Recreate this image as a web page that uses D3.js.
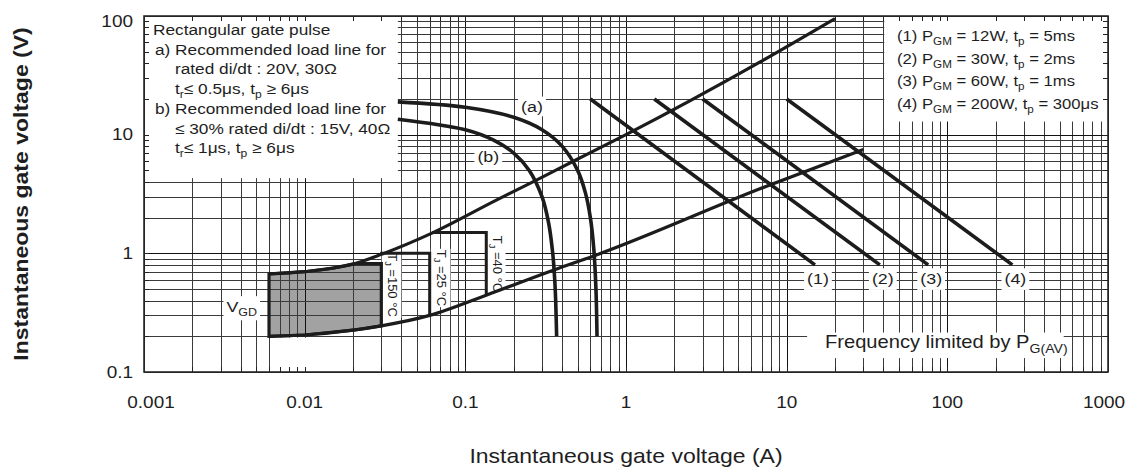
<!DOCTYPE html>
<html><head><meta charset="utf-8">
<script src="https://cdn.jsdelivr.net/npm/d3@7"></script>
<style>
body{margin:0;background:#fff}
svg{display:block}
text{font-family:"Liberation Sans",Arial,Helvetica,sans-serif;fill:#1e1e1e;white-space:pre}
</style>
</head><body>
<svg id="c" width="1140" height="472"></svg>
<script>
// ---------------- data ----------------
const xTickValues = [0.001, 0.01, 0.1, 1, 10, 100, 1000];
const xTickLabels = ["0.001", "0.01", "0.1", "1", "10", "100", "1000"];
const yTickValues = [0.1, 1, 10, 100];
const yTickLabels = ["0.1", "1", "10", "100"];

// upper / lower gate characteristic boundary (I in A, V in V)
const upperI = [0.006, 0.01, 0.0206, 0.03, 0.062, 0.157, 0.273, 0.473, 1, 6.89, 20];
const upperV = [0.67, 0.70, 0.82, 0.98, 1.48, 2.82, 4.1, 6.0, 10, 41.2, 95];
const lowerI = [0.006, 0.01, 0.02, 0.03, 0.06, 0.136, 0.356, 0.63, 6.94, 30];
const lowerV = [0.2, 0.205, 0.225, 0.245, 0.30, 0.446, 0.724, 0.95, 3.53, 7.5];

// recommended load lines (a) 20V,30Ω and (b) 15V,40Ω
const loadAI = [0.038, 0.1, 0.2, 0.3, 0.4, 0.5, 0.56, 0.6, 0.63, 0.65, 0.66];
const loadAV = [18.9, 17.0, 14.0, 11.0, 8.0, 5.0, 3.2, 2.0, 1.1, 0.5, 0.2];
const loadBI = [0.038, 0.1, 0.15, 0.2, 0.25, 0.3, 0.33, 0.35, 0.36, 0.365, 0.37];
const loadBV = [13.5, 11.0, 9.0, 7.0, 5.0, 3.0, 1.8, 1.0, 0.6, 0.4, 0.2];
const loadLabels = ["(a)", "(b)"];
const loadLabelI = [0.26, 0.139];
const loadLabelV = [17.4, 6.5];

// peak gate power lines (1)-(4)
const powerLabels = ["(1)", "(2)", "(3)", "(4)"];
const powerStartI = [0.6, 1.5, 3.0, 10];
const powerStartV = [20, 20, 20, 20];
const powerEndI = [15, 38, 76, 254];
const powerEndV = [0.8, 0.8, 0.8, 0.8];
const powerLabelV = 0.61;

// V_GD (gate non-trigger) region, Tj = 150 °C
const vgdI = [0.006, 0.006, 0.01, 0.015, 0.0206, 0.03, 0.03, 0.02, 0.01, 0.006];
const vgdV = [0.2, 0.67, 0.70, 0.75, 0.82, 0.82, 0.245, 0.225, 0.205, 0.2];
// Tj = 25 °C and 40 °C trigger boxes
const tj25I = [0.0295, 0.06, 0.06];
const tj25V = [1.0, 1.0, 0.30];
const tj40I = [0.062, 0.135, 0.135];
const tj40V = [1.5, 1.5, 0.446];
const tjLabels = [["T", "_J", " =150 °C"], ["T", "_J", " =25 °C"], ["T", "_J", " =40 °C"]];
const tjLabelI = [0.0354, 0.0716, 0.1576];
const tjLabelV = [0.541, 0.62, 0.813];
const vgdLabelI = 0.00406, vgdLabelV = 0.35;

const noteLines = [
  ["Rectangular gate pulse"],
  ["a) Recommended load line for"],
  ["rated di/dt : 20V, 30Ω"],
  ["t", "_r", "≤ 0.5μs, t", "_p", " ≥ 6μs"],
  ["b) Recommended load line for"],
  ["≤ 30% rated di/dt : 15V, 40Ω"],
  ["t", "_r", "≤ 1μs, t", "_p", " ≥ 6μs"]
];
const noteIndent = [0, 1, 2, 2, 1, 2, 2];
const legendLines = [
  ["(1) P", "_GM", " = 12W, t", "_p", " = 5ms"],
  ["(2) P", "_GM", " = 30W, t", "_p", " = 2ms"],
  ["(3) P", "_GM", " = 60W, t", "_p", " = 1ms"],
  ["(4) P", "_GM", " = 200W, t", "_p", " = 300μs"]
];

// ---------------- drawing ----------------
const svg = d3.select("#c");
const X0 = 144, X1 = 1108, Y0 = 372, Y1 = 16;
const x = d3.scaleLog().domain([0.001, 1000]).range([X0, X1]);
const y = d3.scaleLog().domain([0.1, 100]).range([Y0, Y1]);
const SX = 1.15;
const INK = "#1c1c1c";
const zip = (a, b) => a.map((v, i) => [v, b[i]]);
const lin = d3.line().x(d => x(d[0])).y(d => y(d[1]));
const smooth = d3.line().x(d => x(d[0])).y(d => y(d[1])).curve(d3.curveMonotoneX);
const smoothR = d3.line().x(d => x(d[0])).y(d => y(d[1])).curve(d3.curveCatmullRom.alpha(0.5));

svg.append("rect").attr("width", 1140).attr("height", 472).attr("fill", "#fff");

// gray V_GD fill
svg.append("path").attr("d", lin(zip(vgdI, vgdV)) + "Z").attr("fill", "#a2a2a2");

// grid
const isMajor = d => Math.abs(Math.log10(d) - Math.round(Math.log10(d))) < 1e-9;
const px = v => Math.round(v) + 0.5;
const grid = svg.append("g").attr("shape-rendering", "crispEdges");
grid.selectAll("line.v").data(x.ticks()).join("line")
  .attr("x1", d => px(x(d))).attr("x2", d => px(x(d)))
  .attr("y1", Y1).attr("y2", Y0)
  .attr("stroke", d => isMajor(d) ? "#111" : "#3a3a3a").attr("stroke-width", 1);
grid.selectAll("line.h").data(y.ticks()).join("line")
  .attr("y1", d => px(y(d))).attr("y2", d => px(y(d)))
  .attr("x1", X0).attr("x2", X1)
  .attr("stroke", d => isMajor(d) ? "#111" : "#3a3a3a").attr("stroke-width", 1);

// white panels that hide the grid (given in data units)
const panels = svg.append("g").attr("fill", "#fff");
function panel(i0, i1, v0, v1) {
  const xa = x(i0), xb = x(i1), ya = y(v1), yb = y(v0);
  panels.append("rect").attr("x", xa).attr("y", ya).attr("width", xb - xa).attr("height", yb - ya);
}
panel(0.00102, 0.038, 4.3, 94);      // note block
panel(40.5, 935, 12.9, 92);           // legend block
panel(13.4, 530, 0.131, 0.215);       // "Frequency limited" label
panel(0.0062, 0.0105, 0.106, 0.195);  // gap below V_GD box

// text helper (slightly wide typeface emulated by horizontal stretch)
function addText(parent, tx, ty, parts, o = {}) {
  const g = parent.append("g");
  const fs = o.size || 15;
  const t = g.append("text")
    .attr("transform", `translate(${tx},${ty})` + (o.rot ? ` rotate(${o.rot})` : "") + ` scale(${o.sx ?? SX},1)`)
    .attr("font-size", fs).attr("text-anchor", o.anchor || "start")
    .attr("font-weight", o.weight || "normal");
  let inSub = false;
  parts.forEach((p, k) => {
    const isSub = p.startsWith("_");
    const s = isSub ? p.slice(1) : p;
    const ts = t.append("tspan").text(s);
    if (k === 0 && o.dy) ts.attr("dy", o.dy);
    if (isSub) { ts.attr("font-size", fs * 0.7).attr("dy", fs * 0.28); inSub = true; }
    else if (inSub) { ts.attr("dy", -fs * 0.28); inSub = false; }
  });
  if (o.bg) {
    const b = g.node().getBBox();
    const p = o.pad || [2, 2];
    g.insert("rect", "text").attr("x", b.x - p[0]).attr("y", b.y - p[1])
      .attr("width", b.width + 2 * p[0]).attr("height", b.height + 2 * p[1]).attr("fill", "#fff");
  }
  return g;
}

// inward ticks on all four sides
const ticks = svg.append("g").attr("stroke", "#222").attr("stroke-width", 1).attr("shape-rendering", "crispEdges");
x.ticks().forEach(d => {
  ticks.append("line").attr("x1", px(x(d))).attr("x2", px(x(d))).attr("y1", Y1).attr("y2", Y1 + 5);
  ticks.append("line").attr("x1", px(x(d))).attr("x2", px(x(d))).attr("y1", Y0 - 5).attr("y2", Y0);
});
y.ticks().forEach(d => {
  ticks.append("line").attr("y1", px(y(d))).attr("y2", px(y(d))).attr("x1", X0).attr("x2", X0 + 5);
  ticks.append("line").attr("y1", px(y(d))).attr("y2", px(y(d))).attr("x1", X1 - 5).attr("x2", X1);
});

// frame
svg.append("rect").attr("x", X0).attr("y", Y1).attr("width", X1 - X0).attr("height", Y0 - Y1)
  .attr("fill", "none").attr("stroke", "#2a2a2a").attr("stroke-width", 1.6);

// labels with white backing (drawn before the heavy curves)
const lab = svg.append("g");
loadLabels.forEach((s, i) => addText(lab, x(loadLabelI[i]), y(loadLabelV[i]), [s],
  { size: 15.5, anchor: "middle", dy: "0.35em", bg: true, pad: [3, 1] }));
powerLabels.forEach((s, i) => addText(lab, x(powerEndI[i]) + 3, y(powerLabelV), [s],
  { size: 15.5, anchor: "middle", dy: "0.35em", bg: true, pad: [3, 2] }));
tjLabels.forEach((parts, i) => addText(lab, x(tjLabelI[i]), y(tjLabelV[i]), parts,
  { size: 13, anchor: "middle", dy: "0.35em", rot: 90, sx: 1, bg: true, pad: [1, 1] }));
addText(lab, x(vgdLabelI), y(vgdLabelV), ["V", "_GD"],
  { size: 15.5, anchor: "middle", dy: "0.3em", bg: true, pad: [3, 2] });

// curves
const marks = svg.append("g").attr("fill", "none").attr("stroke", INK).attr("stroke-linecap", "butt").attr("stroke-linejoin", "miter");
marks.append("path").attr("d", smooth(zip(upperI, upperV))).attr("stroke-width", 3.2);
marks.append("path").attr("d", smooth(zip(lowerI, lowerV))).attr("stroke-width", 3.2);
marks.append("path").attr("d", smoothR(zip(loadAI, loadAV))).attr("stroke-width", 3.6);
marks.append("path").attr("d", smoothR(zip(loadBI, loadBV))).attr("stroke-width", 3.6);
powerLabels.forEach((s, i) => {
  marks.append("path").attr("d", lin([[powerStartI[i], powerStartV[i]], [powerEndI[i], powerEndV[i]]]))
    .attr("stroke-width", 3.6);
});
marks.append("path").attr("d", lin(zip(vgdI, vgdV)) + "Z").attr("stroke-width", 3.2);
marks.append("path").attr("d", lin(zip(tj25I, tj25V))).attr("stroke-width", 3);
marks.append("path").attr("d", lin(zip(tj40I, tj40V))).attr("stroke-width", 3);

// note block text
const txt = svg.append("g");
const noteX = [153, 155, 175];
noteLines.forEach((parts, i) => addText(txt, noteX[noteIndent[i]], 35 + i * 19.7, parts, { size: 15 }));
// legend text
legendLines.forEach((parts, i) => addText(txt, 897, 41 + i * 22.6, parts, { size: 14.5 }));
// frequency note
addText(txt, 825, 348, ["Frequency limited by P", "_G(AV)"], { size: 17.5 });

// axis tick labels
xTickValues.forEach((v, i) => {
  const off = i === 0 ? 7 : (i === xTickValues.length - 1 ? -4 : 0);
  addText(txt, x(v) + off, 408, [xTickLabels[i]], { size: 16.5, anchor: "middle" });
});
yTickValues.forEach((v, i) => {
  const off = i === yTickValues.length - 1 ? 5 : 0;
  addText(txt, 133, y(v) + off, [yTickLabels[i]], { size: 16.5, anchor: "end", dy: "0.35em" });
});

// axis titles
addText(txt, (X0 + X1) / 2, 463, ["Instantaneous gate voltage (A)"], { size: 20, anchor: "middle" });
addText(txt, 28, (Y0 + Y1) / 2, ["Instantaneous gate voltage (V)"], { size: 20, anchor: "middle", rot: -90, weight: "bold" });
</script>
</body></html>
